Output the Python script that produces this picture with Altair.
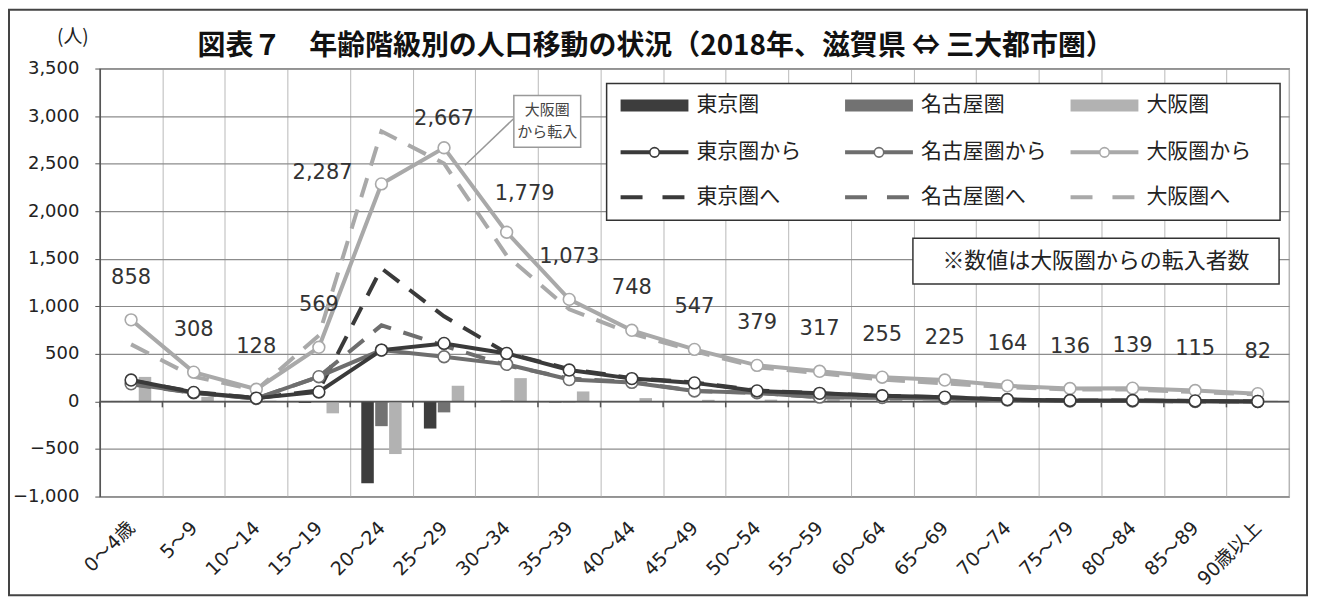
import altair as alt
import pandas as pd

ages = ["0～4歳", "5～9", "10～14", "15～19", "20～24", "25～29", "30～34", "35～39", "40～44",
        "45～49", "50～54", "55～59", "60～64", "65～69", "70～74", "75～79", "80～84", "85～89", "90歳以上"]

# 転入（…から）
tokyo_from = [225, 95, 35, 100, 540, 610, 505, 330, 240, 195, 110, 85, 60, 45, 20, 10, 10, 5, 0]
nagoya_from = [185, 90, 30, 260, 540, 470, 390, 230, 200, 110, 90, 45, 40, 30, 15, 5, 5, 0, 0]
osaka_from = [858, 308, 128, 569, 2287, 2667, 1779, 1073, 748, 547, 379, 317, 255, 225, 164, 136, 139, 115, 82]
# 転出（…へ）
tokyo_to = [220, 100, 35, 115, 1400, 895, 510, 340, 245, 200, 115, 85, 60, 45, 20, 10, 10, 5, 0]
nagoya_to = [180, 90, 30, 260, 800, 585, 380, 240, 205, 110, 90, 45, 40, 30, 15, 5, 5, 0, 0]
osaka_to = [600, 260, 120, 694, 2840, 2502, 1534, 968, 713, 530, 360, 295, 230, 190, 150, 125, 125, 100, 75]

regions = ["東京圏", "名古屋圏", "大阪圏"]
colors = ["#3a3a3a", "#6e6e6e", "#a9a9a9"]
bar_colors = ["#3d3d3d", "#727272", "#b2b2b2"]

title_text = "図表７　年齢階級別の人口移動の状況（2018年、滋賀県 ⇔ 三大都市圏）"
note_text = "※数値は大阪圏からの転入者数"

W, H = 1192, 429
FONT_NUM = "DejaVu Sans, Noto Sans CJK JP"
FONT_JP = "Noto Sans CJK JP"

froms = [tokyo_from, nagoya_from, osaka_from]
tos = [tokyo_to, nagoya_to, osaka_to]

bar_rows, from_rows, to_rows = [], [], []
for r, f, t in zip(regions, froms, tos):
    for a, fv, tv in zip(ages, f, t):
        bar_rows.append({"age": a, "region": r, "v": fv - tv})
        from_rows.append({"age": a, "region": r, "v": fv})
        to_rows.append({"age": a, "region": r, "v": tv})
bars_df = pd.DataFrame(bar_rows)
from_df = pd.DataFrame(from_rows)
to_df = pd.DataFrame(to_rows)

label_offsets = {ages[4]: (-59, -11), ages[5]: (0, -29), ages[6]: (18, -38)}
lab_rows = []
for a, v in zip(ages, osaka_from):
    dx, dy = label_offsets.get(a, (0, -42))
    lab_rows.append({"age": a, "v": v, "dx": dx, "dy": dy})
lab_df = pd.DataFrame(lab_rows)

xscale = alt.Scale(domain=ages, paddingInner=0, paddingOuter=0)
yscale = alt.Scale(domain=[-1000, 3500], nice=False, zero=False)

xaxis = alt.Axis(title=None, tickBand="extent", grid=True, gridColor="#b9b9b9",
                 gridWidth=1, ticks=False, domain=False, labelAngle=-45,
                 labelAlign="right", labelBaseline="middle", labelPadding=28,
                 labelFont=FONT_NUM, labelFontSize=19, labelColor="#222")
yaxis = alt.Axis(title=None, values=list(range(-1000, 3501, 500)), format=",d",
                 grid=True, gridColor="#8c8c8c", gridWidth=1.2, tickSize=5,
                 tickColor="#555", domainColor="#555", domainWidth=1.5,
                 labelFont=FONT_NUM, labelFontSize=18, labelColor="#222",
                 labelPadding=16)
X = alt.X("age:N", sort=ages, scale=xscale, axis=xaxis)
Y = alt.Y("v:Q", scale=yscale, axis=yaxis)

layers = []

bars = alt.Chart(bars_df).mark_bar().encode(
    x=X, y=Y,
    xOffset=alt.XOffset("region:N", sort=regions,
                        scale=alt.Scale(domain=regions, paddingOuter=0.8, paddingInner=0.1)),
    color=alt.Color("region:N", scale=alt.Scale(domain=regions, range=bar_colors), legend=None),
)
layers.append(bars)

# zero line and its ticks
layers.append(alt.Chart(pd.DataFrame({"z": [0]})).mark_rule(color="#555", strokeWidth=1.5)
              .encode(y=alt.datum(0)))
layers.append(alt.Chart(pd.DataFrame({"age": ages})).mark_rule(color="#555", strokeWidth=1.5)
              .encode(x=alt.X("age:N", sort=ages, scale=xscale, bandPosition=0, axis=xaxis),
                      y=alt.datum(0), y2=alt.datum(-62)))

# dashed lines (…へ)
for r, c in zip(regions, colors):
    layers.append(alt.Chart(to_df[to_df.region == r]).mark_line(
        color=c, strokeWidth=4, strokeDash=[20, 13]).encode(x=X, y=Y))
# solid lines (…から)
for r, c in zip(regions[::-1], colors[::-1]):
    d = from_df[from_df.region == r]
    layers.append(alt.Chart(d).mark_line(color=c, strokeWidth=4).encode(x=X, y=Y))
    layers.append(alt.Chart(d).mark_point(shape="circle", filled=True, fill="white",
                                          stroke=c, strokeWidth=1.6, size=140, opacity=1)
                  .encode(x=X, y=Y))

# data labels
for (dx, dy), g in lab_df.groupby(["dx", "dy"]):
    layers.append(alt.Chart(g).mark_text(font=FONT_NUM, fontSize=21, color="#333",
                                         dx=int(dx), dy=int(dy))
                  .encode(x=X, y=Y, text=alt.Text("v:Q", format=",")))

def deco_data():
    return alt.Data(values=[{"a": 1}])

def rect(x0, y0, x1, y1, fill="white", stroke="#333", sw=1.5):
    return alt.Chart(deco_data()).mark_rect(fill=fill, stroke=stroke, strokeWidth=sw).encode(
        x=alt.value(x0), x2=alt.value(x1), y=alt.value(y0), y2=alt.value(y1))

def text(x, y, s, size, align="left", weight="normal", font=FONT_JP, color="#222"):
    return alt.Chart(deco_data()).mark_text(align=align, baseline="middle", fontSize=size,
                                            fontWeight=weight, font=font, color=color).encode(
        x=alt.value(x), y=alt.value(y), text=alt.value(s))

# callout
layers.append(alt.Chart(deco_data()).mark_rule(color="#999", strokeWidth=1.5).encode(
    x=alt.value(415), x2=alt.value(366), y=alt.value(50), y2=alt.value(97)))
layers.append(rect(415, 27, 482, 79, fill="white", stroke="#999", sw=1.5))
layers.append(text(448.5, 42, "大阪圏", 15, align="center", color="#444"))
layers.append(text(448.5, 64, "から転入", 15, align="center", color="#444"))

# legend box
layers.append(rect(508, 15, 1183, 152))
row_y = [37, 84, 129]
col_x = [522, 747, 973]
SYM = 68
for i, (r, c, bc) in enumerate(zip(regions, colors, bar_colors)):
    x0 = col_x[i]
    layers.append(rect(x0, row_y[0] - 6, x0 + SYM, row_y[0] + 6, fill=bc, stroke=bc, sw=0))
    layers.append(text(x0 + SYM + 8, row_y[0], r, 21))
    layers.append(alt.Chart(deco_data()).mark_rule(color=c, strokeWidth=4).encode(
        x=alt.value(x0), x2=alt.value(x0 + SYM), y=alt.value(row_y[1])))
    layers.append(alt.Chart(deco_data()).mark_point(shape="circle", filled=True, fill="white",
                                                   stroke=c, strokeWidth=1.6, size=90, opacity=1)
                  .encode(x=alt.value(x0 + SYM / 2), y=alt.value(row_y[1])))
    layers.append(text(x0 + SYM + 8, row_y[1], r + "から", 21))
    layers.append(alt.Chart(deco_data()).mark_rule(color=c, strokeWidth=4, strokeDash=[22, 20]).encode(
        x=alt.value(x0), x2=alt.value(x0 + SYM), y=alt.value(row_y[2])))
    layers.append(text(x0 + SYM + 8, row_y[2], r + "へ", 21))

# note box
layers.append(rect(815, 170, 1182, 216))
layers.append(text(998.5, 193, note_text, 22, align="center"))

# title, unit and outer frame
layers.append(text(98, -22, title_text, 28, align="left", weight="bold", color="#111"))
layers.append(text(-27, -32, "(人)", 19, align="center"))
layers.append(alt.Chart(deco_data()).mark_rect(fillOpacity=0, stroke="#444", strokeWidth=2).encode(
    x=alt.value(-91), x2=alt.value(1210), y=alt.value(-59), y2=alt.value(528)))

chart = alt.layer(*layers).properties(
    width=W, height=H,
    padding={"left": 92, "top": 60, "right": 22, "bottom": 101},
    autosize="none",
    background="white",
).configure_view(stroke="#777", strokeWidth=1.2)

chart.save("out.html", embed_options={"renderer": "svg", "actions": False})
